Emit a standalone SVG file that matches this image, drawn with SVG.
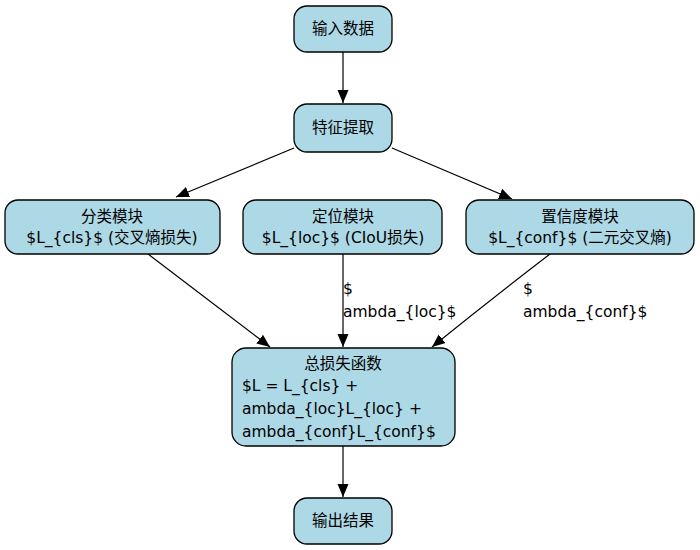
<svg xmlns="http://www.w3.org/2000/svg" width="700" height="550" viewBox="0 0 700 550">
<style>
.n{fill:#add8e6;stroke:#000;stroke-width:1.3}
text{font-family:"DejaVu Sans","Noto Sans CJK SC",sans-serif;font-size:15.5px;fill:#000}
.c{text-anchor:middle}
.e{stroke:#000;stroke-width:1.2;fill:none;marker-end:url(#a)}
</style>
<defs><marker id="a" markerWidth="14" markerHeight="12" refX="13" refY="6" orient="auto" markerUnits="userSpaceOnUse"><path d="M0,0.5 L13,6 L0,11.5 Z" fill="#000"/></marker></defs>
<rect width="700" height="550" fill="#fff"/>
<g id="edges">
<path class="e" d="M343,52 L343,103"/>
<path class="e" d="M294,148 L176,197"/>
<path class="e" d="M392,148 L512,199"/>
<path class="e" d="M148,254 L270,347"/>
<path class="e" d="M343,254 L343,347"/>
<path class="e" d="M550,254 Q490,300 432,347"/>
<path class="e" d="M343,446 L343,497"/>
<text x="343" y="294">$</text><text x="343" y="317">ambda_{loc}$</text>
<text x="523" y="294">$</text><text x="523" y="317">ambda_{conf}$</text>
</g>
<g id="input"><rect class="n" x="294" y="6" width="98" height="46" rx="13"/><text class="c" x="343" y="34">输入数据</text></g>
<g id="feature"><rect class="n" x="294" y="104" width="98" height="48" rx="13"/><text class="c" x="343" y="133">特征提取</text></g>
<g id="cls"><rect class="n" x="5" y="200" width="215" height="54" rx="13"/><text class="c" x="112" y="222">分类模块</text><text class="c" x="112" y="243">$L_{cls}$ (交叉熵损失)</text></g>
<g id="loc"><rect class="n" x="243" y="200" width="199" height="54" rx="13"/><text class="c" x="343" y="222">定位模块</text><text class="c" x="343" y="243">$L_{loc}$ (CIoU损失)</text></g>
<g id="conf"><rect class="n" x="466" y="200" width="228" height="54" rx="13"/><text class="c" x="580" y="222">置信度模块</text><text class="c" x="580" y="243">$L_{conf}$ (二元交叉熵)</text></g>
<g id="total"><rect class="n" x="232" y="348" width="223" height="98" rx="14"/><text class="c" x="343" y="369">总损失函数</text><text x="242" y="391">$L = L_{cls} +</text><text x="242" y="414">ambda_{loc}L_{loc} +</text><text x="242" y="437">ambda_{conf}L_{conf}$</text></g>
<g id="output"><rect class="n" x="294" y="498" width="98" height="46" rx="13"/><text class="c" x="343" y="526">输出结果</text></g>
</svg>
